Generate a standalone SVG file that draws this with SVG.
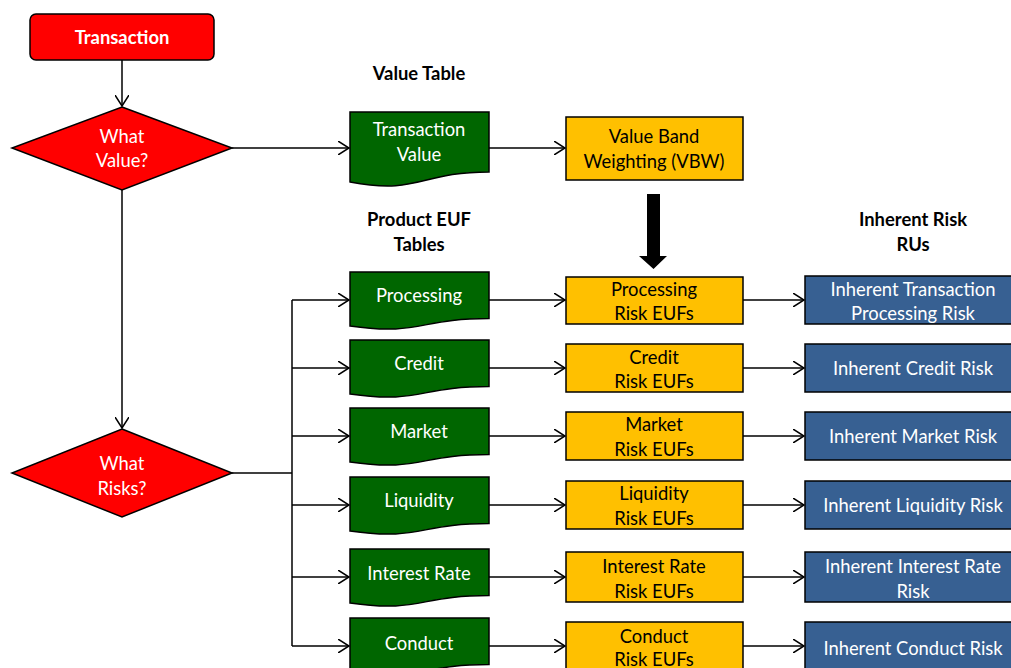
<svg xmlns="http://www.w3.org/2000/svg" width="1011" height="668" viewBox="0 0 1011 668">
<defs>
<marker id="arr" viewBox="0 0 12 14" refX="11" refY="7" markerWidth="12" markerHeight="14" markerUnits="userSpaceOnUse" orient="auto">
<path d="M0,0 L11,7 L0,14" fill="none" stroke="#000" stroke-width="1.5"/>
</marker>
<style>
text{font-family:Lato,"Liberation Sans",sans-serif;font-size:18.4px;text-anchor:middle;dominant-baseline:central}
.w{fill:#fff}
.k{fill:#000}
.b{font-weight:bold}
.red{fill:#ff0000;stroke:#000;stroke-width:1.5}
.grn{fill:#006600;stroke:#000;stroke-width:1.5}
.yel{fill:#ffc000;stroke:#000;stroke-width:1.5}
.blu{fill:#376092;stroke:#000;stroke-width:1.5}
.c{fill:none;stroke:#000;stroke-width:1.5}
</style>
</defs>
<rect width="1011" height="668" fill="#fff"/>

<g id="connectors">
<line class="c" x1="122" y1="60" x2="122" y2="106" marker-end="url(#arr)"/>
<line class="c" x1="232" y1="148" x2="349" y2="148" marker-end="url(#arr)"/>
<line class="c" x1="122" y1="190" x2="122" y2="428" marker-end="url(#arr)"/>
<line class="c" x1="489" y1="148" x2="565" y2="148" marker-end="url(#arr)"/>
<line class="c" x1="232" y1="473" x2="292" y2="473"/>
<line class="c" x1="292" y1="300" x2="292" y2="646"/>
<line class="c" x1="292" y1="300" x2="349" y2="300" marker-end="url(#arr)"/>
<line class="c" x1="292" y1="368" x2="349" y2="368" marker-end="url(#arr)"/>
<line class="c" x1="292" y1="436" x2="349" y2="436" marker-end="url(#arr)"/>
<line class="c" x1="292" y1="505" x2="349" y2="505" marker-end="url(#arr)"/>
<line class="c" x1="292" y1="577" x2="349" y2="577" marker-end="url(#arr)"/>
<line class="c" x1="292" y1="646" x2="349" y2="646" marker-end="url(#arr)"/>
<line class="c" x1="489" y1="300" x2="565" y2="300" marker-end="url(#arr)"/>
<line class="c" x1="489" y1="368" x2="565" y2="368" marker-end="url(#arr)"/>
<line class="c" x1="489" y1="436" x2="565" y2="436" marker-end="url(#arr)"/>
<line class="c" x1="489" y1="505" x2="565" y2="505" marker-end="url(#arr)"/>
<line class="c" x1="489" y1="577" x2="565" y2="577" marker-end="url(#arr)"/>
<line class="c" x1="489" y1="646" x2="565" y2="646" marker-end="url(#arr)"/>
<line class="c" x1="743" y1="300" x2="804" y2="300" marker-end="url(#arr)"/>
<line class="c" x1="743" y1="368" x2="804" y2="368" marker-end="url(#arr)"/>
<line class="c" x1="743" y1="436" x2="804" y2="436" marker-end="url(#arr)"/>
<line class="c" x1="743" y1="505" x2="804" y2="505" marker-end="url(#arr)"/>
<line class="c" x1="743" y1="577" x2="804" y2="577" marker-end="url(#arr)"/>
<line class="c" x1="743" y1="646" x2="804" y2="646" marker-end="url(#arr)"/>
<path d="M647,194 H660 V256 H667 L653.5,269 L639,256 H647 Z" fill="#000"/>
</g>

<g id="headings">
<text class="k b" x="419" y="73">Value Table</text>
<text class="k b" x="419" y="219">Product EUF</text>
<text class="k b" x="419" y="244">Tables</text>
<text class="k b" x="913" y="219">Inherent Risk</text>
<text class="k b" x="913" y="244">RUs</text>
</g>

<g id="transaction">
<rect class="red" x="30" y="14" width="184" height="46" rx="6"/>
<text class="w b" x="122" y="37">Transaction</text>
</g>
<g id="what-value">
<polygon class="red" points="122,107 232,148 122,190 12,148"/>
<text class="w" x="122" y="136">What</text>
<text class="w" x="122" y="160">Value?</text>
</g>
<g id="what-risks">
<polygon class="red" points="122,429 232,473 122,517 12,473"/>
<text class="w" x="122" y="463">What</text>
<text class="w" x="122" y="488">Risks?</text>
</g>

<g id="transaction-value">
<path class="grn" d="M350,112 H489 V172 C419.5,172 419.5,195 350,182 Z"/>
<text class="w" x="419" y="129">Transaction</text>
<text class="w" x="419" y="154">Value</text>
</g>
<g id="vbw">
<rect class="yel" x="566" y="117" width="177" height="63"/>
<text class="k" x="654" y="136">Value Band</text>
<text class="k" x="654" y="161">Weighting (VBW)</text>
</g>

<g id="doc-processing">
<path class="grn" d="M350,272 H489 V318.5 C419.5,318.5 419.5,336 350,326 Z"/>
<text class="w" x="419" y="295">Processing</text>
</g>
<g id="doc-credit">
<path class="grn" d="M350,340 H489 V386.5 C419.5,386.5 419.5,404 350,394 Z"/>
<text class="w" x="419" y="363">Credit</text>
</g>
<g id="doc-market">
<path class="grn" d="M350,408 H489 V454.5 C419.5,454.5 419.5,472 350,462 Z"/>
<text class="w" x="419" y="431">Market</text>
</g>
<g id="doc-liquidity">
<path class="grn" d="M350,477 H489 V523.5 C419.5,523.5 419.5,541 350,531 Z"/>
<text class="w" x="419" y="500">Liquidity</text>
</g>
<g id="doc-interest">
<path class="grn" d="M350,549 H489 V595.5 C419.5,595.5 419.5,613 350,603 Z"/>
<text class="w" x="419" y="573">Interest Rate</text>
</g>
<g id="doc-conduct">
<path class="grn" d="M350,618 H489 V664.5 C419.5,664.5 419.5,682 350,672 Z"/>
<text class="w" x="419" y="643">Conduct</text>
</g>

<g id="eufs-processing">
<rect class="yel" x="566" y="277" width="177" height="47"/>
<text class="k" x="654" y="289">Processing</text>
<text class="k" x="654" y="313">Risk EUFs</text>
</g>
<g id="eufs-credit">
<rect class="yel" x="566" y="344" width="177" height="48"/>
<text class="k" x="654" y="357">Credit</text>
<text class="k" x="654" y="381">Risk EUFs</text>
</g>
<g id="eufs-market">
<rect class="yel" x="566" y="412" width="177" height="48"/>
<text class="k" x="654" y="424">Market</text>
<text class="k" x="654" y="449">Risk EUFs</text>
</g>
<g id="eufs-liquidity">
<rect class="yel" x="566" y="481" width="177" height="48"/>
<text class="k" x="654" y="493">Liquidity</text>
<text class="k" x="654" y="518">Risk EUFs</text>
</g>
<g id="eufs-interest">
<rect class="yel" x="566" y="552" width="177" height="50"/>
<text class="k" x="654" y="566">Interest Rate</text>
<text class="k" x="654" y="591">Risk EUFs</text>
</g>
<g id="eufs-conduct">
<rect class="yel" x="566" y="622" width="177" height="50"/>
<text class="k" x="654" y="636">Conduct</text>
<text class="k" x="654" y="659">Risk EUFs</text>
</g>

<g id="risk-processing">
<rect class="blu" x="805" y="276" width="216" height="48"/>
<text class="w" x="913" y="289">Inherent Transaction</text>
<text class="w" x="913" y="313">Processing Risk</text>
</g>
<g id="risk-credit">
<rect class="blu" x="805" y="344" width="216" height="48"/>
<text class="w" x="913" y="368">Inherent Credit Risk</text>
</g>
<g id="risk-market">
<rect class="blu" x="805" y="412" width="216" height="48"/>
<text class="w" x="913" y="436">Inherent Market Risk</text>
</g>
<g id="risk-liquidity">
<rect class="blu" x="805" y="481" width="216" height="48"/>
<text class="w" x="913" y="505">Inherent Liquidity Risk</text>
</g>
<g id="risk-interest">
<rect class="blu" x="805" y="552" width="216" height="50"/>
<text class="w" x="913" y="566">Inherent Interest Rate</text>
<text class="w" x="913" y="591">Risk</text>
</g>
<g id="risk-conduct">
<rect class="blu" x="805" y="622" width="216" height="50"/>
<text class="w" x="913" y="648">Inherent Conduct Risk</text>
</g>
</svg>
